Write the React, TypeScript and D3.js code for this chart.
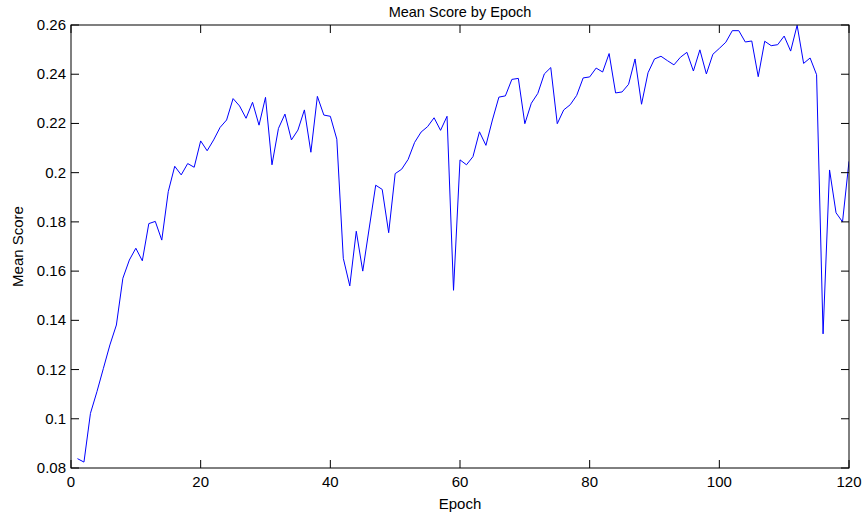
import React from "react";
import * as d3 from "d3";

// Mean score recorded at the end of each training epoch (epochs 1..120)
const epochs: number[] = Array.from({ length: 120 }, (_, i) => i + 1);
const meanScores: number[] = [
  0.0838, 0.0824, 0.1022, 0.111, 0.1205, 0.1300, 0.1381, 0.1571, 0.1645, 0.1693,
  0.1642, 0.1793, 0.1802, 0.1726, 0.1923, 0.2026, 0.1991, 0.2037, 0.2022, 0.2129,
  0.2089, 0.2133, 0.2184, 0.2214, 0.2301, 0.2271, 0.2221, 0.2286, 0.2193, 0.2306,
  0.2032, 0.2180, 0.2238, 0.2133, 0.2173, 0.2255, 0.2083, 0.2310, 0.2234, 0.2229,
  0.2136, 0.1652, 0.1540, 0.1762, 0.1600, 0.1775, 0.1949, 0.1932, 0.1756, 0.1996,
  0.2014, 0.2054, 0.2123, 0.2165, 0.2187, 0.2223, 0.2172, 0.2229, 0.1522, 0.2052,
  0.2032, 0.2065, 0.2166, 0.2111, 0.2214, 0.2307, 0.2312, 0.2379, 0.2383, 0.2199,
  0.2282, 0.2322, 0.2401, 0.2427, 0.2199, 0.2255, 0.2276, 0.2314, 0.2385, 0.2389,
  0.2425, 0.2409, 0.2484, 0.2324, 0.2328, 0.2359, 0.2462, 0.2278, 0.2406, 0.2462,
  0.2473, 0.2455, 0.2438, 0.2469, 0.2489, 0.2413, 0.2499, 0.2401, 0.2481, 0.2505,
  0.2530, 0.2577, 0.2577, 0.2531, 0.2535, 0.2390, 0.2534, 0.2516, 0.2520, 0.2555,
  0.2494, 0.2599, 0.2444, 0.2466, 0.2398, 0.1345, 0.2011, 0.1837, 0.1800, 0.2046,
];

const xTicks: number[] = [0, 20, 40, 60, 80, 100, 120];
const yTicks: number[] = [0.08, 0.1, 0.12, 0.14, 0.16, 0.18, 0.2, 0.22, 0.24, 0.26];
const yTickLabels: string[] = ["0.08", "0.1", "0.12", "0.14", "0.16", "0.18", "0.2", "0.22", "0.24", "0.26"];

const W = 866;
const H = 512;
const margin = { left: 71, right: 17, top: 25, bottom: 44 };
const font = "'Liberation Sans', Arial, Helvetica, sans-serif";

export default function App() {
  const x = d3.scaleLinear().domain([0, 120]).range([margin.left, W - margin.right]);
  const y = d3.scaleLinear().domain([0.08, 0.26]).range([H - margin.bottom, margin.top]);
  const line = d3
    .line<number>()
    .x((_, i) => x(epochs[i]))
    .y((d) => y(d));

  const x0 = x(0), x1 = x(120), yb = y(0.08), yt = y(0.26);
  const tick = 8;
  const fs = 15;

  return (
    <svg
      width={W}
      height={H}
      style={{ position: "absolute", left: 0, top: 0, background: "#fff" }}
      fontFamily={font}
    >
      <rect x={0} y={0} width={W} height={H} fill="#fff" />
      <defs>
        <clipPath id="plot">
          <rect x={x0} y={yt} width={x1 - x0} height={yb - yt} />
        </clipPath>
      </defs>
      <path
        d={line(meanScores) || ""}
        fill="none"
        stroke="#0000ff"
        strokeWidth={1}
        clipPath="url(#plot)"
      />
      {/* axis box */}
      <rect x={x0} y={yt} width={x1 - x0} height={yb - yt} fill="none" stroke="#000" strokeWidth={1} />
      {xTicks.map((t) => (
        <g key={`x${t}`}>
          <line x1={x(t)} x2={x(t)} y1={yb} y2={yb - tick} stroke="#000" />
          <line x1={x(t)} x2={x(t)} y1={yt} y2={yt + tick} stroke="#000" />
          <text x={x(t)} y={yb + 19} textAnchor="middle" fontSize={fs} fill="#000">
            {t}
          </text>
        </g>
      ))}
      {yTicks.map((t, i) => (
        <g key={`y${t}`}>
          <line x1={x0} x2={x0 + tick} y1={y(t)} y2={y(t)} stroke="#000" />
          <line x1={x1} x2={x1 - tick} y1={y(t)} y2={y(t)} stroke="#000" />
          <text x={x0 - 5} y={y(t) + 5} textAnchor="end" fontSize={fs} fill="#000">
            {yTickLabels[i]}
          </text>
        </g>
      ))}
      <text x={(x0 + x1) / 2} y={17} textAnchor="middle" fontSize={14.5} fill="#000">
        Mean Score by Epoch
      </text>
      <text x={(x0 + x1) / 2} y={509} textAnchor="middle" fontSize={fs} fill="#000">
        Epoch
      </text>
      <text
        transform={`translate(23, ${(yt + yb) / 2}) rotate(-90)`}
        textAnchor="middle"
        fontSize={fs}
        fill="#000"
      >
        Mean Score
      </text>
    </svg>
  );
}
